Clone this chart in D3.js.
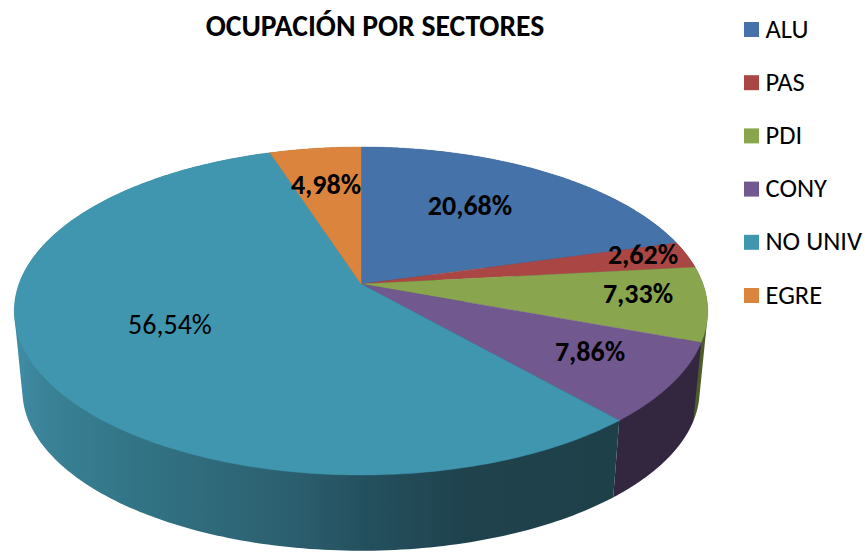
<!DOCTYPE html>
<html><head><meta charset="utf-8">
<script src="https://cdn.jsdelivr.net/npm/d3@7/dist/d3.min.js"></script>
<style>
html,body{margin:0;padding:0;background:#fff}
svg{display:block}
text{font-family:Carlito,Lato,"Open Sans",sans-serif;fill:#000}
</style></head><body>
<svg id="c" width="865" height="552"></svg>
<script>
const chartTitle = "OCUPACIÓN POR SECTORES";
const categories = ["ALU","PAS","PDI","CONY","NO UNIV","EGRE"];
const shares = [20.68,2.62,7.33,7.86,56.54,4.98];
const topColors = ["#4572a8","#aa4643","#89a54e","#71588f","#4096af","#db843d"];
const wallColors = ["#2f4d72","#742f2d","#4d5c2b","#33263f","#1f4450","#8f5526"];
const boldLabel = [true,true,true,true,false,true];
const labelCenters = [[470,206],[643,255],[638,294],[590,352],[170,325],[326,185]];

const svg = d3.select("#c");
const color = d3.scaleOrdinal(categories, topColors);
const wall = d3.scaleOrdinal(categories, wallColors);
const fmt = d3.formatLocale({decimal:",",thousands:".",grouping:[3],currency:["","€"]}).format(".2f");

// perspective disc
const persp = 0.1646;
function disc(cx, cy, B, A){
  return a => {
    const c = Math.cos(a), s = Math.sin(a), k = 1 + persp*c;
    return [cx + B*s/k, cy - A*c/k];
  };
}
const topDisc = disc(361,284,342,159.6);
const botDisc = disc(361,364,334,156);
const line = d3.line();
const pie = d3.pie().sort(null).value(d=>d.v)(categories.map((n,i)=>({n,v:shares[i]})));
const sample = (a0,a1) => d3.range(0,1.0001,0.005).map(t=>a0+(a1-a0)*t);

const defs = svg.append("defs");
const g = defs.append("linearGradient").attr("id","teal").attr("gradientUnits","userSpaceOnUse")
  .attr("x1",14).attr("x2",620).attr("y1",0).attr("y2",0);
[[0,"#418ea7"],[0.05,"#3a8297"],[0.2,"#327485"],[0.45,"#2c6070"],[0.58,"#24505e"],[0.75,"#1f424d"],[1,"#1e4049"]]
 .forEach(([o,c])=>g.append("stop").attr("offset",o).attr("stop-color",c));

// walls: hull of the slice's upper and lower rim (inner part lies under the top face)
svg.append("g").selectAll("path").data(pie).join("path")
  .attr("d",d=>{
    const as = sample(d.startAngle,d.endAngle);
    return line(d3.polygonHull(as.map(topDisc).concat(as.map(botDisc))))+"Z";
  })
  .attr("fill",d=>d.data.n==="NO UNIV"?"url(#teal)":wall(d.data.n));

// top
svg.append("g").selectAll("path").data(pie).join("path")
  .attr("d",d=>line([[361,284]].concat(sample(d.startAngle,d.endAngle).map(topDisc)))+"Z")
  .attr("fill",d=>color(d.data.n))
  .attr("stroke",d=>color(d.data.n)).attr("stroke-width",0.4);

// value labels
svg.append("g").selectAll("text").data(pie).join("text")
  .attr("x",(d,i)=>labelCenters[i][0]).attr("y",(d,i)=>labelCenters[i][1]+9)
  .attr("text-anchor","middle").attr("font-size",28)
  .attr("font-weight",(d,i)=>boldLabel[i]?700:400)
  .text(d=>fmt(d.data.v)+"%");

// title
svg.append("text").attr("x",375).attr("y",35.5).attr("text-anchor","middle")
  .attr("font-size",29.7).attr("font-weight",700).text(chartTitle);

// legend
const ly = d3.scalePoint(categories,[29.5,295.5]);
const leg = svg.append("g").selectAll("g").data(categories).join("g")
  .attr("transform",d=>`translate(744,${ly(d)})`);
leg.append("rect").attr("x",0).attr("y",-7.5).attr("width",15).attr("height",15).attr("fill",d=>color(d));
leg.append("text").attr("x",21.5).attr("y",8).attr("font-size",26.5).text(d=>d);
</script></body></html>
